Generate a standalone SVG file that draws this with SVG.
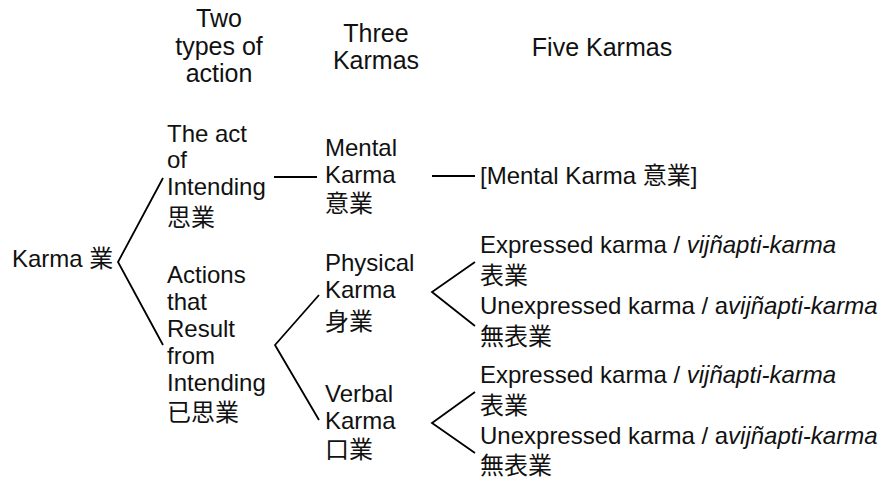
<svg xmlns="http://www.w3.org/2000/svg" width="885" height="482" viewBox="0 0 885 482">
<style>
text{font-family:"Liberation Sans","Noto Sans CJK JP",sans-serif;font-size:24px;fill:#111;}
.h{font-size:25px;text-anchor:middle;}
.it{font-style:italic;}
.c{stroke:#000;stroke-width:1.8;fill:none;}
</style>
<rect width="885" height="482" fill="#fff"/>
<g id="headers">
<text class="h" x="219" y="27">Two</text>
<text class="h" x="219" y="55">types of</text>
<text class="h" x="219" y="82">action</text>
<text class="h" x="376" y="42">Three</text>
<text class="h" x="376" y="69">Karmas</text>
<text class="h" x="602" y="56">Five Karmas</text>
</g>
<g id="connectors">
<polyline class="c" points="163,178 118,262 163,345"/>
<line class="c" x1="274" y1="177" x2="317" y2="177"/>
<line class="c" x1="432" y1="176" x2="475" y2="176"/>
<polyline class="c" points="319,295 275,345 319,420"/>
<polyline class="c" points="475,262 432,292 475,326"/>
<polyline class="c" points="475,392 432,423 475,453"/>
</g>
<g id="karma"><text x="12" y="267">Karma 業</text></g>
<g id="act-of-intending">
<text x="167" y="142">The act</text>
<text x="167" y="168">of</text>
<text x="167" y="195">Intending</text>
<text x="167" y="226">思業</text>
</g>
<g id="actions-result">
<text x="167" y="283">Actions</text>
<text x="167" y="310">that</text>
<text x="167" y="337">Result</text>
<text x="167" y="364">from</text>
<text x="167" y="391">Intending</text>
<text x="167" y="421">已思業</text>
</g>
<g id="mental">
<text x="325" y="156">Mental</text>
<text x="325" y="183">Karma</text>
<text x="325" y="212">意業</text>
</g>
<g id="physical">
<text x="325" y="271">Physical</text>
<text x="325" y="298">Karma</text>
<text x="325" y="330">身業</text>
</g>
<g id="verbal">
<text x="325" y="402">Verbal</text>
<text x="325" y="429">Karma</text>
<text x="325" y="458">口業</text>
</g>
<g id="mental-five"><text x="480" y="184">[Mental Karma 意業]</text></g>
<g id="physical-expressed">
<text x="480" y="253">Expressed karma / <tspan class="it">vijñapti-karma</tspan></text>
<text x="480" y="284">表業</text>
</g>
<g id="physical-unexpressed">
<text x="480" y="314">Unexpressed karma / a<tspan class="it">vijñapti-karma</tspan></text>
<text x="480" y="345">無表業</text>
</g>
<g id="verbal-expressed">
<text x="480" y="383">Expressed karma / <tspan class="it">vijñapti-karma</tspan></text>
<text x="480" y="414">表業</text>
</g>
<g id="verbal-unexpressed">
<text x="480" y="444">Unexpressed karma / a<tspan class="it">vijñapti-karma</tspan></text>
<text x="480" y="474">無表業</text>
</g>
</svg>
